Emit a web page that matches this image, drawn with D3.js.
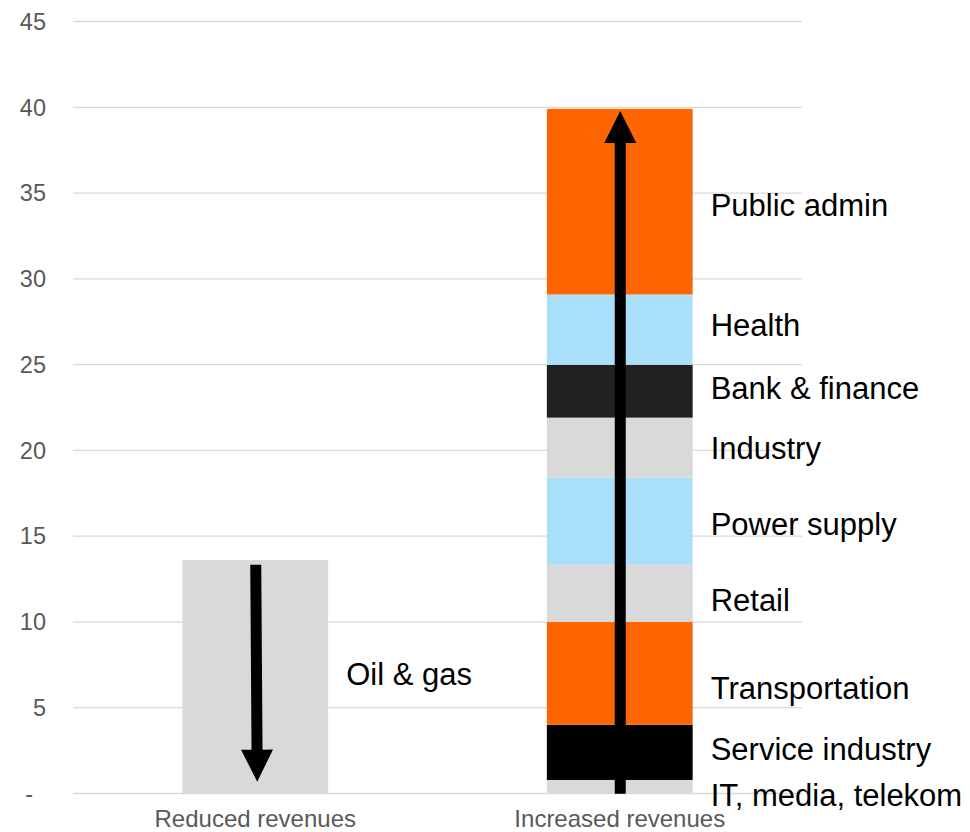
<!DOCTYPE html>
<html>
<head>
<meta charset="utf-8">
<script src="https://cdn.jsdelivr.net/npm/d3@7"></script>
<style>
  body { margin: 0; background: #fff; }
  svg { display: block; font-family: 'Liberation Sans', Arial, sans-serif; }
</style>
</head>
<body>
<div id="chart"></div>
<script>
// data
const categories = ['Reduced revenues', 'Increased revenues'];
const reducedSectors = ['Oil & gas'];
const reducedValues = [13.58];
const increasedSectors = ['IT, media, telekom', 'Service industry', 'Transportation', 'Retail',
  'Power supply', 'Industry', 'Bank & finance', 'Health', 'Public admin'];
const increasedValues = [0.76, 3.22, 5.99, 3.34, 5.07, 3.5, 3.08, 4.1, 10.82];
const yTicks = [0, 5, 10, 15, 20, 25, 30, 35, 40, 45];
const yTickLabels = ['-', '5', '10', '15', '20', '25', '30', '35', '40', '45'];
// arrows: start and end value on each bar
const arrowFrom = [13.3, -0.05];
const arrowTo = [0.66, 39.75];

// styles
const reducedColors = ['#d9d9d9'];
const increasedColors = ['#d9d9d9', '#000000', '#ff6600', '#d9d9d9', '#aadffa', '#d9d9d9', '#212121', '#aadffa', '#ff6600'];
const increasedLabelNudge = [9, -3, 15, 7, 3, 0, -3, -4, 4]; // px
const reducedLabelNudge = [-2];

class RevenueShiftChart {
  constructor(aims) {
    this.chartContainer = d3.select(aims);
    this.chart = null;
    this.chartWidth = 970;
    this.chartHeight = 832;
    this.plotLeft = 73;
    this.plotRight = 802;
    this.plotTop = 21;
    this.plotBottom = 793;
    this.xScale = null;
    this.yScale = null;
  }

  render() {
    this.createSvg();
    this.initScales();
    this.drawAxes();
    this.drawBars();
    this.drawArrows();
    this.drawLabels();
  }

  createSvg() {
    this.chart = this.chartContainer
      .append('svg')
      .attr('width', this.chartWidth)
      .attr('height', this.chartHeight);
  }

  initScales() {
    this.xScale = d3.scaleBand()
      .domain(categories)
      .range([this.plotLeft, this.plotRight])
      .paddingInner(0.6)
      .paddingOuter(0.3);
    this.yScale = d3.scaleLinear().domain([0, 45]).range([this.plotBottom, this.plotTop]);
  }

  drawAxes() {
    let yAxis = d3.axisLeft(this.yScale)
      .tickValues(yTicks)
      .tickFormat((d, i) => yTickLabels[i])
      .tickSize(-(this.plotRight - this.plotLeft))
      .tickPadding(27);

    let gy = this.chart
      .append('g')
      .attr('class', 'y-axis')
      .attr('transform', 'translate(' + this.plotLeft + ', 0)')
      .call(yAxis);
    gy.select('.domain').remove();
    gy.selectAll('.tick line')
      .attr('stroke', '#d9d9d9')
      .attr('stroke-width', 1.3);
    gy.selectAll('.tick text')
      .attr('fill', '#595959')
      .attr('font-size', '23.5px')
      .attr('dy', '0.35em')
      .attr('dx', (d) => d === 0 ? -13 : 0);

    let xAxis = d3.axisBottom(this.xScale).tickSize(0);
    let gx = this.chart
      .append('g')
      .attr('class', 'x-axis')
      .attr('transform', 'translate(0, ' + this.plotBottom + ')')
      .call(xAxis);
    gx.select('.domain').remove();
    gx.selectAll('.tick text')
      .attr('fill', '#595959')
      .attr('font-size', '24px')
      .attr('y', 34)
      .attr('dy', 0);
  }

  stackRows(cat, names, values, colors, nudges) {
    let ends = d3.cumsum(values);
    return values.map((v, i) => ({
      cat: cat,
      name: names[i],
      y0: ends[i] - v,
      y1: ends[i],
      color: colors[i],
      nudge: nudges[i]
    }));
  }

  drawBars() {
    this.rows = this.stackRows(categories[0], reducedSectors, reducedValues, reducedColors, reducedLabelNudge)
      .concat(this.stackRows(categories[1], increasedSectors, increasedValues, increasedColors, increasedLabelNudge));

    this.chart
      .append('g')
      .attr('class', 'bars')
      .selectAll('rect')
      .data(this.rows)
      .enter()
      .append('rect')
      .attr('x', (d) => this.xScale(d.cat))
      .attr('width', this.xScale.bandwidth())
      .attr('y', (d) => this.yScale(d.y1))
      .attr('height', (d) => this.yScale(d.y0) - this.yScale(d.y1))
      .attr('fill', (d) => d.color);
  }

  arrowPath(x1, y1, x2, y2) {
    let shaft = 5.5, head = 16, headLen = 32;
    let dx = x2 - x1, dy = y2 - y1;
    let len = Math.sqrt(dx * dx + dy * dy);
    let ux = dx / len, uy = dy / len;
    let px = -uy, py = ux;
    let bx = x2 - ux * headLen, by = y2 - uy * headLen;
    let pts = [
      [x1 + px * shaft, y1 + py * shaft],
      [bx + px * shaft, by + py * shaft],
      [bx + px * head, by + py * head],
      [x2, y2],
      [bx - px * head, by - py * head],
      [bx - px * shaft, by - py * shaft],
      [x1 - px * shaft, y1 - py * shaft]
    ];
    return 'M' + pts.map((p) => p.join(',')).join('L') + 'Z';
  }

  drawArrows() {
    let tilt = [1.5, 0]; // slight lean of the left arrow
    this.chart
      .append('g')
      .attr('class', 'arrows')
      .selectAll('path')
      .data(categories)
      .enter()
      .append('path')
      .attr('d', (d, i) => {
        let cx = this.xScale(d) + this.xScale.bandwidth() / 2;
        return this.arrowPath(cx + 0.5, this.yScale(arrowFrom[i]), cx + 0.5 + tilt[i], this.yScale(arrowTo[i]));
      })
      .attr('fill', '#000');
  }

  drawLabels() {
    this.chart
      .append('g')
      .attr('class', 'labels')
      .selectAll('text')
      .data(this.rows)
      .enter()
      .append('text')
      .attr('x', (d) => this.xScale(d.cat) + this.xScale.bandwidth() + 18)
      .attr('y', (d) => this.yScale((d.y0 + d.y1) / 2) + d.nudge)
      .attr('dy', '0.35em')
      .attr('font-size', '31px')
      .attr('fill', '#000')
      .text((d) => d.name);
  }
}

new RevenueShiftChart('#chart').render();
</script>
</body>
</html>
